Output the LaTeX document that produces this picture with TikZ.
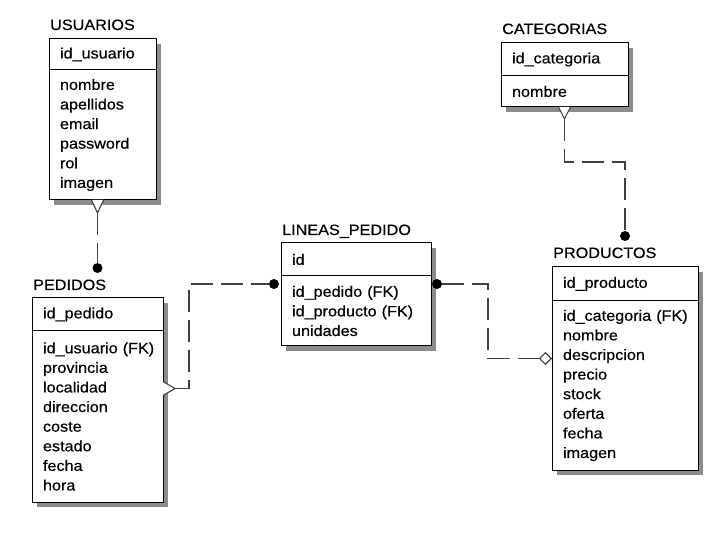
\documentclass[tikz,border=0pt]{standalone}
\usepackage{fontspec}
\setmainfont{Liberation Sans}[FakeStretch=1.08, FakeBold=0.4]
\usetikzlibrary{shadows,shapes.geometric}

\tikzset{
  tbl/.style={draw=black, line width=1pt, fill=white, anchor=north west,
    outer sep=0pt, inner xsep=11pt, inner ysep=0pt, align=left,
    font=\fontsize{15}{19.6}\selectfont,
    drop shadow={shadow xshift=5pt, shadow yshift=-5pt, fill=black!45, opacity=1}},
  ttl/.style={anchor=base west, inner sep=0pt, font=\fontsize{15}{17}\selectfont},
  rel/.style={draw=black!75, line width=1.2pt, dash pattern=on 22pt off 8pt},
  fork/.style={draw=black!75, line width=1.1pt, fill=white},
  dot/.style={circle, fill=black, inner sep=0pt, minimum size=10pt},
  dia/.style={diamond, draw=black!75, line width=1.1pt, fill=white,
    inner sep=0pt, minimum width=12pt, minimum height=12pt}
}

\begin{document}
\begin{tikzpicture}[x=1pt,y=-1pt]
  \useasboundingbox (0,0) rectangle (713,540);

  \node[tbl, text width=85pt, minimum height=31pt] (usuarios-key) at (49,39) {id\_usuario};
  \node[tbl, text width=85pt, minimum height=130pt] (usuarios-attr) at (usuarios-key.south west)
    {nombre\\apellidos\\email\\password\\rol\\imagen};
  \node[ttl] (usuarios) at ([xshift=1pt,yshift=9pt]usuarios-key.north west) {USUARIOS};

  \node[tbl, text width=109pt, minimum height=33pt] (pedidos-key) at (32,298) {id\_pedido};
  \node[tbl, text width=109pt, minimum height=171pt] (pedidos-attr) at (pedidos-key.south west)
    {id\_usuario~(FK)\\provincia\\localidad\\direccion\\coste\\estado\\fecha\\hora};
  \node[ttl] (pedidos) at ([xshift=1pt,yshift=8pt]pedidos-key.north west) {PEDIDOS};

  \node[tbl, text width=128pt, minimum height=33pt] (lineas-key) at (281,243) {id};
  \node[tbl, text width=128pt, minimum height=70pt] (lineas-attr) at (lineas-key.south west)
    {id\_pedido~(FK)\\id\_producto~(FK)\\unidades};
  \node[ttl] (lineas) at ([xshift=1pt,yshift=8pt]lineas-key.north west) {LINEAS\_PEDIDO};

  \node[tbl, text width=105pt, minimum height=33pt] (categorias-key) at (501,43) {id\_categoria};
  \node[tbl, text width=105pt, minimum height=31pt] (categorias-attr) at (categorias-key.south west)
    {nombre};
  \node[ttl] (categorias) at ([xshift=1pt,yshift=9pt]categorias-key.north west) {CATEGORIAS};

  \node[tbl, text width=124pt, minimum height=34pt] (productos-key) at (552,267) {id\_producto};
  \node[tbl, text width=124pt, minimum height=169pt] (productos-attr) at (productos-key.south west)
    {id\_categoria~(FK)\\nombre\\descripcion\\precio\\stock\\oferta\\fecha\\imagen};
  \node[ttl] (productos) at ([xshift=1pt,yshift=9pt]productos-key.north west) {PRODUCTOS};

  \coordinate (usr-fork) at ([xshift=-5pt]usuarios-attr.south);
  \coordinate (usr-tip) at ([yshift=-13pt]usr-fork);
  \draw[fork] ([xshift=-6pt]usr-fork) -- (usr-tip) -- ([xshift=6pt]usr-fork);
  \node[dot] (ped-dot) at ([yshift=30pt]pedidos-key.north) {};
  \draw[rel] (usr-tip) -- (ped-dot);

  \coordinate (ped-fork) at ([yshift=28pt]pedidos-attr.east);
  \coordinate (ped-tip) at ([xshift=12pt]ped-fork);
  \draw[fork] ([yshift=7pt]ped-fork) -- (ped-tip) -- ([yshift=-7pt]ped-fork);
  \node[dot] (lin-dot1) at ([xshift=-7pt,yshift=-8pt]lineas-attr.north west) {};
  \draw[rel] (ped-tip) -- ++(14,0) |- (lin-dot1);

  \node[dot] (lin-dot2) at ([xshift=6pt,yshift=-8pt]lineas-attr.north east) {};
  \node[dia, anchor=east] (prd-dia) at ([yshift=27pt]productos-attr.west) {};
  \draw[rel] (lin-dot2) -- ++(51,0) |- (prd-dia);

  \coordinate (cat-fork) at (categorias-attr.south);
  \coordinate (cat-tip) at ([yshift=-12pt]cat-fork);
  \draw[fork] ([xshift=-6pt]cat-fork) -- (cat-tip) -- ([xshift=6pt]cat-fork);
  \node[dot] (prd-dot) at ([yshift=31pt]productos-key.north) {};
  \draw[rel] (cat-tip) -- ++(0,43) -| (prd-dot);
\end{tikzpicture}
\end{document}
